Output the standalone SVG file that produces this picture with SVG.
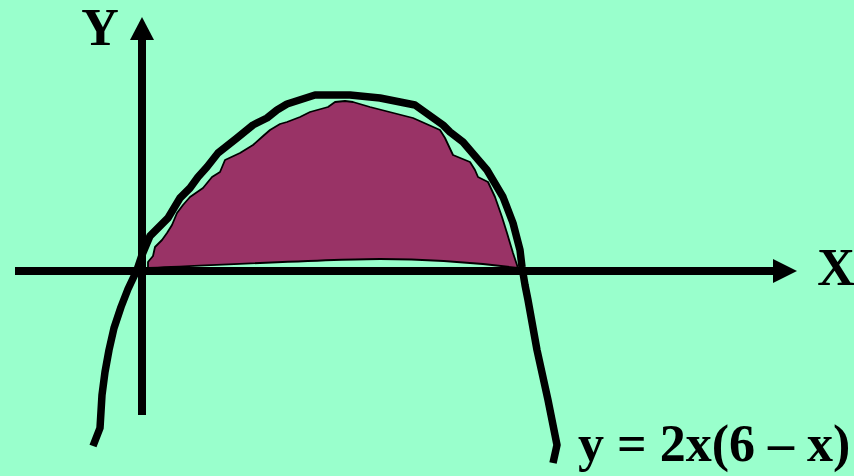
<svg xmlns="http://www.w3.org/2000/svg" width="854" height="476" viewBox="0 0 854 476">
<style>
.lbl{font-family:"Liberation Serif","Times New Roman",serif;font-weight:bold;font-size:52px;fill:#000}
.axis{stroke:#000;stroke-width:8;fill:none}
.curve{stroke:#000;stroke-width:7.5;fill:none;stroke-linejoin:round;stroke-linecap:butt}
.area{fill:#993366;stroke:#000;stroke-width:1.8;stroke-linejoin:round}
</style>
<rect width="854" height="476" fill="#99FFCC"/>
<g id="area">
<path class="area" d="M148,268 L148,262 L153,256 L155,247 L162,240 L167,233 L172,225 L177,213 L183,205 L190,197 L203,188 L212,177 L220,172 L225,160 L240,153 L253,145 L262,137 L270,130 L280,124 L287,122 L300,117 L310,112 L328,107 L335,102 L345,101 L353,102 L370,107 L413,118 L440,130 L445,138 L453,155 L470,162 L475,170 L478,177 L488,182 L495,197 L502,217 L507,233 L513,253 L518,268 C470,262 420,259 380,259 C330,259 200,266 148,268 Z"/>
</g>
<g id="axes">
<line class="axis" x1="15" y1="271" x2="775" y2="271"/>
<polygon points="797,271 773,259 773,283" fill="#000"/>
<line class="axis" x1="142" y1="415" x2="142" y2="38"/>
<polygon points="142,17 130,40 154,40" fill="#000"/>
</g>
<g id="curve">
<path class="curve" d="M93,446 L100,428 L102,395 L105,372 L109,350 L114,328 L121,307 L128,289 L137,270 L142,255 L147,243 L150,236 L160,226 L168,218 L180,198 L190,188 L198,177 L207,167 L218,153 L237,138 L253,125 L267,118 L277,110 L287,104 L315,95 L350,95 L380,98 L415,105 L443,125 L450,132 L463,142 L487,170 L503,197 L513,223 L520,250 L522,267 L525,285 L528,300 L537,350 L548,400 L557,445 L553,463"/>
</g>
<g id="labels">
<text class="lbl" x="100" y="45" text-anchor="middle">Y</text>
<text class="lbl" x="836" y="285" text-anchor="middle">X</text>
<text class="lbl" x="578" y="461">y = 2x(6 – x)</text>
</g>
</svg>
